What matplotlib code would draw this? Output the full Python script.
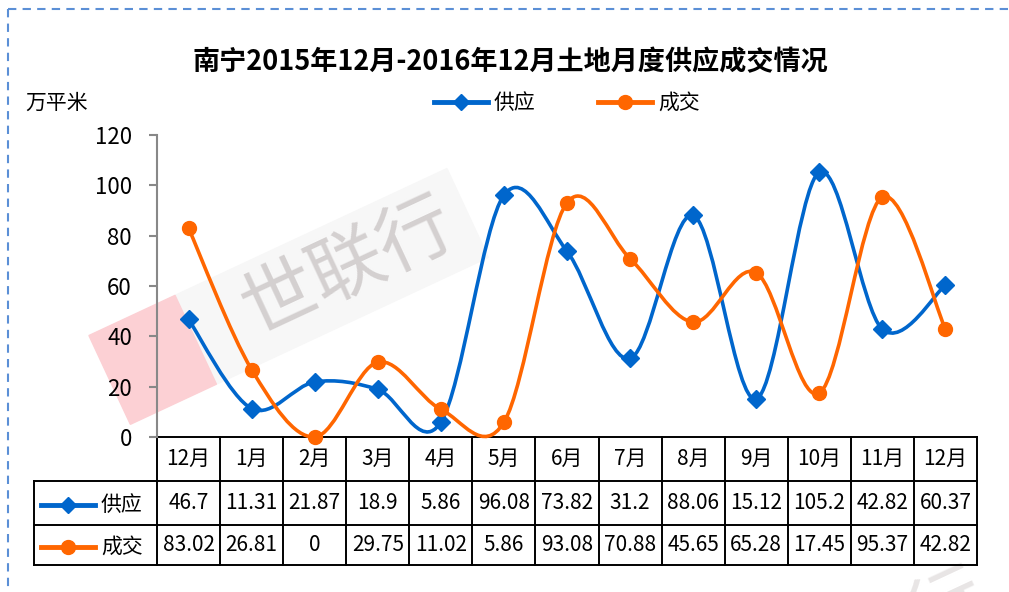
import numpy as np
import matplotlib.pyplot as plt
from matplotlib.path import Path
from matplotlib.patches import PathPatch, Rectangle
from matplotlib.lines import Line2D
import matplotlib.transforms as mtransforms

plt.rcParams['font.family'] = ['Noto Sans CJK SC', 'DejaVu Sans']

# %%
title = "南宁2015年12月-2016年12月土地月度供应成交情况"
months = ["12月", "1月", "2月", "3月", "4月", "5月", "6月", "7月", "8月", "9月", "10月", "11月", "12月"]
supply = [46.7, 11.31, 21.87, 18.9, 5.86, 96.08, 73.82, 31.2, 88.06, 15.12, 105.2, 42.82, 60.37]
deal = [83.02, 26.81, 0, 29.75, 11.02, 5.86, 93.08, 70.88, 45.65, 65.28, 17.45, 95.37, 42.82]
supply_lbl = ["46.7", "11.31", "21.87", "18.9", "5.86", "96.08", "73.82", "31.2", "88.06", "15.12", "105.2", "42.82", "60.37"]
deal_lbl = ["83.02", "26.81", "0", "29.75", "11.02", "5.86", "93.08", "70.88", "45.65", "65.28", "17.45", "95.37", "42.82"]
yticks = [0, 20, 40, 60, 80, 100, 120]

blue = "#0066cc"
orange = "#ff6600"

W, H = 1009, 592


def smooth_path(x, y):
    # excel-like smoothed line: cubic bezier through every point
    pts = np.column_stack([x, y]).astype(float)
    n = len(pts)
    verts = [pts[0]]
    codes = [Path.MOVETO]
    for i in range(n - 1):
        p0 = pts[max(i - 1, 0)]
        p1 = pts[i]
        p2 = pts[i + 1]
        p3 = pts[min(i + 2, n - 1)]
        c1 = p1 + (p2 - p0) / 6.0
        c2 = p2 - (p3 - p1) / 6.0
        verts += [c1, c2, p2]
        codes += [Path.CURVE4] * 3
    return Path(verts, codes)


def rot(cx, cy, ang):
    # rotate around a pixel point (top-left origin) in display space
    return ov.transData + mtransforms.Affine2D().rotate_deg_around(cx, H - cy, ang)


fig = plt.figure(figsize=(W / 100, H / 100), dpi=100)

# overlay in pixel coords for border, table, watermark
ov = fig.add_axes([0, 0, 1, 1], zorder=0)
ov.set_xlim(0, W)
ov.set_ylim(H, 0)
ov.axis("off")

# dashed border
ov.plot([8, W], [9, 9], color="#5b8fd6", lw=1.5, ls=(0, (4, 3)))
ov.plot([8, 8], [9, H], color="#5b8fd6", lw=1.5, ls=(0, (4, 3)))

# watermark
ang = 25
ov.add_patch(Rectangle((200, 312), 300, 98, color="#f7f7f7", zorder=0, transform=rot(150, 360, ang)))
ov.add_patch(Rectangle((105, 312), 95, 98, color="#fcd0d4", zorder=0, transform=rot(150, 360, ang)))
ov.text(348, 268, "世联行", fontsize=54, color="#d4d0d0", rotation=ang,
        ha="center", va="center", zorder=0)
ov.text(880, 640, "世联行", fontsize=54, color="#e8e5e5", rotation=ang,
        ha="center", va="center", zorder=0)

# main axes
x0, x1, ytop, ybot = 157, 977, 135, 437
ax = fig.add_axes([x0 / W, 1 - ybot / H, (x1 - x0) / W, (ybot - ytop) / H], zorder=2)
ax.patch.set_alpha(0)
xs = np.arange(len(months))
ax.set_xlim(-0.5, len(months) - 0.5)
ax.set_ylim(0, 120)

for vals, col, mk, ms in [(supply, blue, "D", 9), (deal, orange, "o", 10)]:
    ax.add_patch(PathPatch(smooth_path(xs, vals), fill=False, edgecolor=col, lw=2.6,
                           clip_on=False, zorder=3))
    ax.plot(xs, vals, ls="none", marker=mk, ms=ms, color=col, clip_on=False, zorder=4)

ax.set_yticks(yticks)
ax.set_xticks([])
ax.tick_params(axis="y", length=6, width=1.5, color="#888888", labelsize=16, pad=12)
for s in ["top", "right", "bottom"]:
    ax.spines[s].set_visible(False)
ax.spines["left"].set_color("#888888")
ax.spines["left"].set_linewidth(1.5)

# legend
handles = [Line2D([], [], color=blue, lw=3.5, marker="D", ms=8),
           Line2D([], [], color=orange, lw=3.5, marker="o", ms=10)]
fig.legend(handles, ["供应", "成交"], loc="center", bbox_to_anchor=(567 / W, 1 - 103 / H),
           ncol=2, frameon=False, fontsize=15, handlelength=2.6, handletextpad=0.3,
           columnspacing=3.0)

fig.text(25 / W, 1 - 103 / H, "万平米", fontsize=15, ha="left", va="center")
fig.text(510 / W, 1 - 62 / H, title, fontsize=19.5, fontweight="bold", ha="center", va="center")

# data table
lx = 34
cw = (x1 - x0) / len(months)
r0, r1, r2, r3 = 437, 481, 525, 565
lw = 1.4
ov.plot([x0, x1], [r0, r0], color="black", lw=lw, zorder=5)
ov.plot([lx, x1], [r1, r1], color="black", lw=lw, zorder=5)
ov.plot([lx, x1], [r2, r2], color="black", lw=lw, zorder=5)
ov.plot([lx, x1], [r3, r3], color="black", lw=lw, zorder=5)
ov.plot([lx, lx], [r1, r3], color="black", lw=lw, zorder=5)
for i in range(len(months) + 1):
    ov.plot([x0 + i * cw] * 2, [r0, r3], color="black", lw=lw, zorder=5)

for i, m in enumerate(months):
    cx = x0 + (i + 0.5) * cw
    ov.text(cx, (r0 + r1) / 2, m, fontsize=15, ha="center", va="center", zorder=6)
    ov.text(cx, (r1 + r2) / 2, supply_lbl[i], fontsize=15, ha="center", va="center", zorder=6)
    ov.text(cx, (r2 + r3) / 2, deal_lbl[i], fontsize=15, ha="center", va="center", zorder=6)

for (ya, yb), col, mk, ms, name in [((r1, r2), blue, "D", 8, "供应"), ((r2, r3), orange, "o", 10, "成交")]:
    cy = (ya + yb) / 2 + 2
    ov.plot([41, 95], [cy, cy], color=col, lw=3.5, zorder=6)
    ov.plot([68], [cy], marker=mk, ms=ms, color=col, zorder=6)
    ov.text(101, cy, name, fontsize=15, ha="left", va="center", zorder=6)

fig.savefig("out.png", dpi=100)
